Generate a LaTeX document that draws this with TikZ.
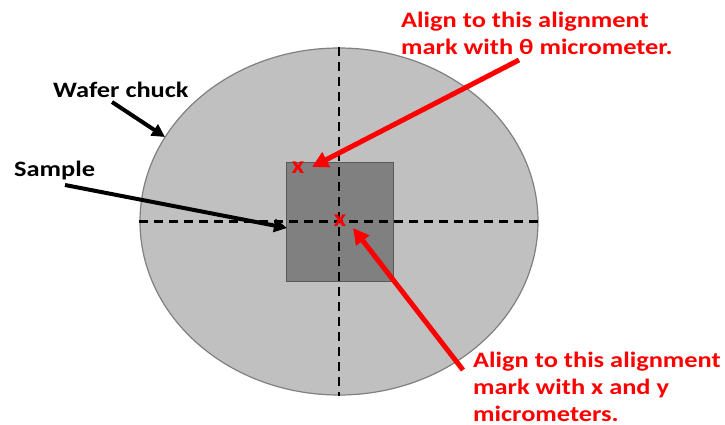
\documentclass[tikz,border=0pt]{standalone}
\usepackage{fontspec}
\setmainfont{Carlito}
\usetikzlibrary{arrows.meta,shapes.geometric}
\definecolor{chuckfill}{HTML}{C0C0C0}
\definecolor{chuckline}{HTML}{808080}
\definecolor{samplefill}{HTML}{808080}
\definecolor{sampleline}{HTML}{595959}
\definecolor{redtxt}{HTML}{FF0000}
\newcommand{\stretchtxt}[1]{\scalebox{1.2}[1]{\begin{tabular}[t]{@{}l@{}}#1\end{tabular}}}
\begin{document}
\begin{tikzpicture}[x=1pt,y=-1pt,
  lbl/.style={font=\fontsize{22}{27}\selectfont\bfseries, inner sep=0pt, anchor=base west},
  redlbl/.style={lbl, text=redtxt},
  blkarrow/.style={line width=4pt, -{Triangle[length=13pt,width=13pt]}},
  redarrow/.style={line width=5pt, draw=redtxt, -{Triangle[length=16pt,width=16pt]}},
  axis/.style={line width=2.5pt, dash pattern=on 9pt off 6pt},
  xmark/.style={text=redtxt, font=\fontsize{24}{24}\selectfont\bfseries, inner sep=0pt}]
\useasboundingbox (0,0) rectangle (725,425);
% chuck
\node[ellipse, draw=chuckline, fill=chuckfill, line width=1.2pt, minimum width=398pt, minimum height=347pt, inner sep=0pt] (chuck) at (339,221.5) {};
% sample
\node[draw=sampleline, fill=samplefill, line width=1pt, minimum width=107pt, minimum height=119pt, inner sep=0pt] (sample) at (339.5,221.5) {};
% axes
\draw[axis] (chuck.north) -- (chuck.south);
\draw[axis] (chuck.west) -- (chuck.east);
% marks
\node[xmark] (mk1) at (298,168) {\scalebox{1.15}[1]{x}};
\node[xmark] (mk2) at (340,221) {\scalebox{1.15}[1]{x}};
% labels
\node[lbl] (wlbl) at (53,98) {\stretchtxt{Wafer chuck}};
\node[lbl] (slbl) at (14,176) {\stretchtxt{Sample}};
\node[redlbl] (tlbl) at (401,28) {\stretchtxt{Align to this alignment\\mark with θ micrometer.}};
\node[redlbl] (blbl) at (473,367) {\stretchtxt{Align to this alignment\\mark with x and y\\micrometers.}};
% arrow endpoints
\coordinate (w0) at (112,102);
\coordinate (w1) at (165,137);
\coordinate (s0) at (65,185);
\coordinate (s1) at (287,228);
\coordinate (t0) at (519,60);
\coordinate (t1) at (312,167);
\coordinate (b0) at (463,370);
\coordinate (b1) at (353,228);
\draw[blkarrow] (w0) -- (w1);
\draw[blkarrow] (s0) -- (s1);
\draw[redarrow] (t0) -- (t1);
\draw[redarrow] (b0) -- (b1);
\end{tikzpicture}
\end{document}
